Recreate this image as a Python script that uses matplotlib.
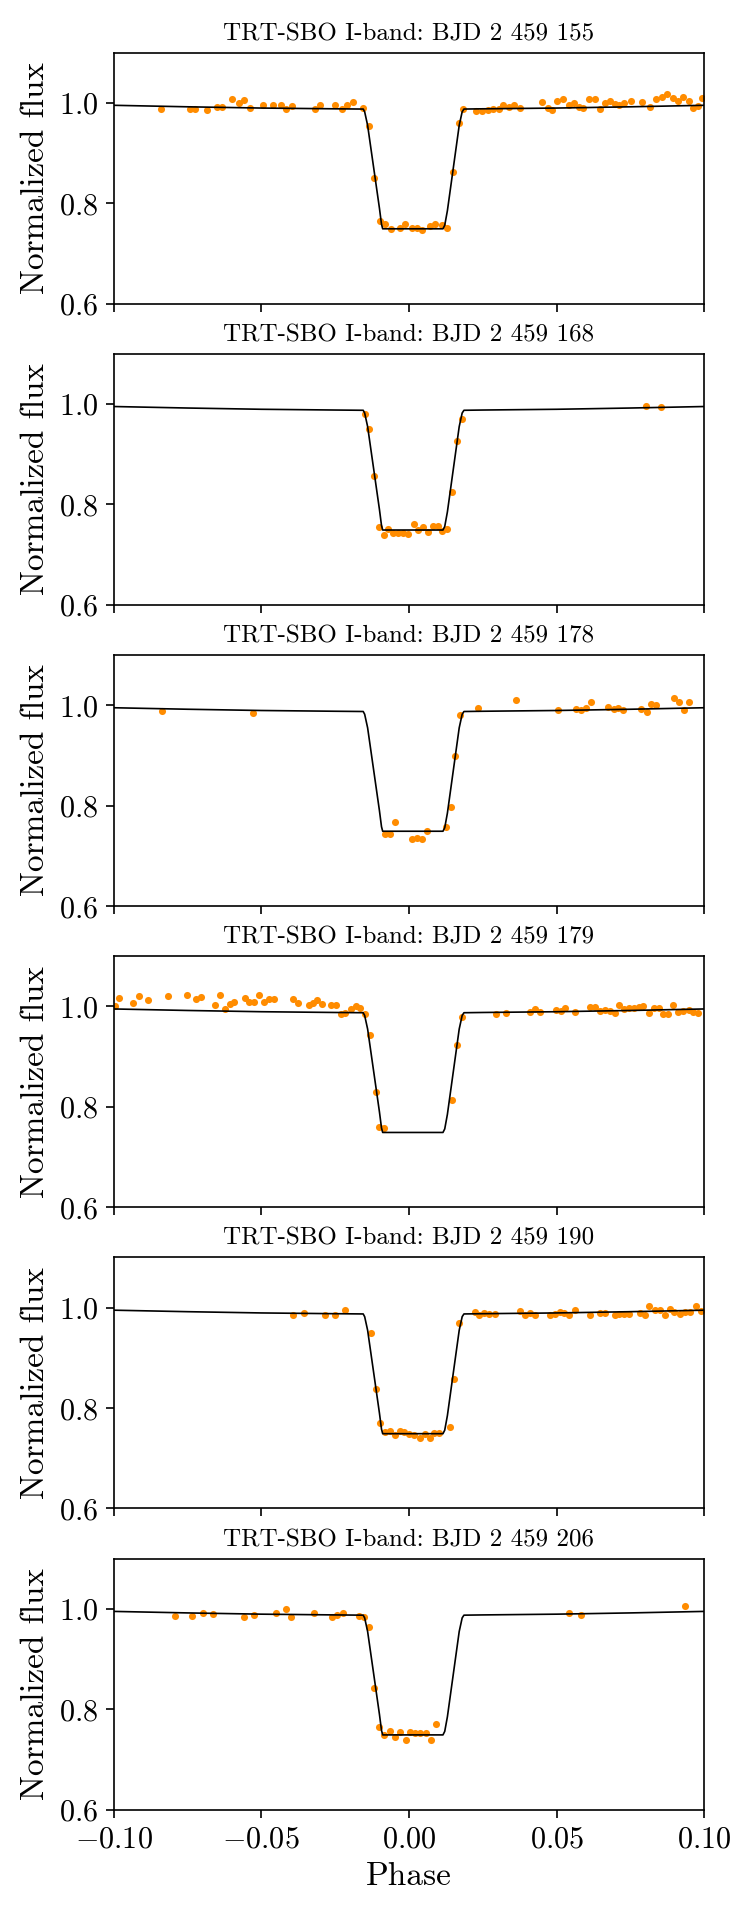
import numpy as np
import matplotlib
matplotlib.use("Agg")
import matplotlib.pyplot as plt

plt.rcParams['font.family'] = 'serif'
plt.rcParams['font.serif'] = ['cmr10']
plt.rcParams['mathtext.fontset'] = 'cm'
plt.rcParams['axes.formatter.use_mathtext'] = True
plt.rcParams['axes.unicode_minus'] = True

# night labels (BJD 2 459 xxx)
nights = ['155', '168', '178', '179', '190', '206']

# transit model (same for every night)
model_phase = [-0.1, -0.075, -0.05, -0.025, -0.0155, -0.0150, -0.0140, -0.0100, -0.0093,
               -0.0089, 0.0115, 0.0121, 0.0130, 0.0170, 0.0180, 0.0186, 0.025, 0.05, 0.075, 0.1]
model_flux = [0.995, 0.992, 0.9895, 0.988, 0.9875, 0.982, 0.955, 0.790, 0.758,
              0.749, 0.749, 0.756, 0.785, 0.955, 0.982, 0.9875, 0.988, 0.9895, 0.992, 0.995]

# night 155
ph_155 = [-0.0841, -0.0741, -0.0723, -0.0683, -0.065, -0.0634, -0.0599, -0.0574, -0.0558, -0.0537,
          -0.0494, -0.0461, -0.0434, -0.0416, -0.0396, -0.0319, -0.0302, -0.0251, -0.0227, -0.021,
          -0.0191, -0.0157, -0.0134, -0.0118, -0.0097, -0.0081, -0.0061, -0.0032, -0.0015, 0.0011,
          0.0028, 0.0045, 0.007, 0.0089, 0.0113, 0.0129, 0.015, 0.017, 0.0183, 0.0228,
          0.0248, 0.0267, 0.0283, 0.0303, 0.0319, 0.034, 0.0356, 0.0377, 0.045, 0.0469,
          0.0485, 0.0502, 0.0523, 0.0542, 0.0558, 0.0574, 0.059, 0.061, 0.063, 0.0647,
          0.0663, 0.068, 0.0696, 0.0712, 0.0728, 0.0752, 0.079, 0.0817, 0.0837, 0.0858,
          0.0874, 0.0895, 0.0911, 0.0927, 0.0947, 0.0963, 0.0979, 0.0992]
fl_155 = [0.988, 0.988, 0.988, 0.985, 0.992, 0.991, 1.008, 1.000, 1.005, 0.990,
          0.995, 0.995, 0.996, 0.987, 0.993, 0.987, 0.995, 0.995, 0.987, 0.995,
          1.002, 0.989, 0.953, 0.851, 0.764, 0.759, 0.748, 0.751, 0.759, 0.751,
          0.750, 0.746, 0.754, 0.759, 0.757, 0.751, 0.862, 0.960, 0.988, 0.983,
          0.983, 0.985, 0.987, 0.987, 0.995, 0.992, 0.995, 0.989, 1.002, 0.990,
          0.985, 1.003, 1.007, 0.995, 0.999, 0.992, 0.989, 1.007, 1.007, 0.988,
          0.999, 1.003, 0.997, 0.995, 0.999, 1.003, 1.001, 0.992, 1.007, 1.012,
          1.017, 1.009, 1.003, 1.012, 1.003, 0.990, 0.993, 1.009]

# night 168
ph_168 = [-0.015, -0.0134, -0.0118, -0.0102, -0.0086, -0.007, -0.0053, -0.0037, -0.0021, -0.0003,
          0.0016, 0.0032, 0.0049, 0.0065, 0.0081, 0.0097, 0.0113, 0.0129, 0.0147, 0.0163,
          0.018, 0.0801, 0.0853]
fl_168 = [0.980, 0.951, 0.856, 0.756, 0.739, 0.751, 0.743, 0.743, 0.743, 0.741,
          0.761, 0.750, 0.755, 0.746, 0.757, 0.757, 0.748, 0.751, 0.825, 0.926,
          0.970, 0.997, 0.994]

# night 178
ph_178 = [-0.0835, -0.0529, -0.0081, -0.0065, -0.0049, 0.0011, 0.0028, 0.0044, 0.0061, 0.0125,
          0.0141, 0.0157, 0.0173, 0.0235, 0.0361, 0.0506, 0.0566, 0.0583, 0.0599, 0.0617,
          0.0675, 0.0693, 0.0709, 0.0725, 0.0785, 0.0804, 0.082, 0.0837, 0.0898, 0.0914,
          0.093, 0.0947]
fl_178 = [0.989, 0.985, 0.743, 0.743, 0.767, 0.733, 0.736, 0.733, 0.749, 0.757,
          0.797, 0.899, 0.980, 0.995, 1.011, 0.990, 0.993, 0.991, 0.994, 1.007,
          0.996, 0.993, 0.995, 0.990, 0.993, 0.987, 1.003, 1.000, 1.014, 1.007,
          0.990, 1.006]

# night 179
ph_179 = [-0.0995, -0.0982, -0.0934, -0.0914, -0.0882, -0.0817, -0.0752, -0.072, -0.0704, -0.0655,
          -0.0639, -0.0623, -0.0607, -0.0591, -0.0555, -0.0542, -0.0526, -0.0506, -0.049, -0.0474,
          -0.0458, -0.0392, -0.0375, -0.034, -0.0324, -0.0311, -0.0294, -0.0264, -0.0248, -0.0231,
          -0.0215, -0.0197, -0.0181, -0.0165, -0.0149, -0.0133, -0.0113, -0.01, -0.0084, 0.0146,
          0.0162, 0.0178, 0.0296, 0.0328, 0.0409, 0.0426, 0.0445, 0.0497, 0.0513, 0.0529,
          0.0561, 0.0612, 0.0628, 0.0647, 0.0663, 0.068, 0.0696, 0.0712, 0.0728, 0.0744,
          0.0761, 0.0777, 0.0793, 0.0812, 0.0828, 0.0845, 0.0861, 0.0877, 0.0895, 0.0911,
          0.0927, 0.0947, 0.0963, 0.0979]
fl_179 = [1.001, 1.016, 1.007, 1.020, 1.012, 1.020, 1.023, 1.015, 1.018, 1.002,
          1.022, 0.995, 1.005, 1.008, 1.017, 1.009, 1.009, 1.023, 1.009, 1.014,
          1.015, 1.014, 1.006, 1.002, 1.007, 1.012, 1.005, 1.003, 1.003, 0.985,
          0.987, 0.995, 1.000, 0.997, 0.985, 0.944, 0.829, 0.759, 0.758, 0.813,
          0.924, 0.978, 0.985, 0.986, 0.989, 0.995, 0.989, 0.992, 0.991, 0.997,
          0.988, 0.999, 0.999, 0.991, 0.993, 0.991, 0.987, 1.002, 0.995, 0.997,
          0.997, 0.999, 1.000, 0.987, 0.996, 0.997, 0.985, 0.985, 1.003, 0.988,
          0.991, 0.992, 0.989, 0.987]

# night 190
ph_190 = [-0.0393, -0.0356, -0.0283, -0.0251, -0.0215, -0.0129, -0.0113, -0.0097, -0.0081, -0.0065,
          -0.0049, -0.0032, -0.0016, 0.0, 0.0016, 0.0037, 0.0053, 0.007, 0.0086, 0.0102,
          0.0138, 0.0154, 0.017, 0.0222, 0.0238, 0.0254, 0.027, 0.0291, 0.0377, 0.0393,
          0.0409, 0.0426, 0.0477, 0.0494, 0.051, 0.0526, 0.0542, 0.0561, 0.0612, 0.0647,
          0.0663, 0.0696, 0.0712, 0.0728, 0.0744, 0.0782, 0.0798, 0.0814, 0.0833, 0.085,
          0.0866, 0.0882, 0.0898, 0.0917, 0.0934, 0.095, 0.0971, 0.0987]
fl_190 = [0.986, 0.989, 0.985, 0.985, 0.995, 0.949, 0.838, 0.770, 0.753, 0.755,
          0.747, 0.755, 0.753, 0.749, 0.747, 0.741, 0.749, 0.741, 0.751, 0.751,
          0.763, 0.857, 0.970, 0.992, 0.985, 0.990, 0.988, 0.988, 0.994, 0.985,
          0.989, 0.985, 0.986, 0.988, 0.991, 0.989, 0.986, 0.995, 0.985, 0.989,
          0.990, 0.985, 0.987, 0.987, 0.987, 0.990, 0.985, 1.003, 0.995, 0.995,
          0.985, 0.997, 0.991, 0.988, 0.991, 0.991, 1.003, 0.993]

# night 206
ph_206 = [-0.0791, -0.0736, -0.0696, -0.0663, -0.0558, -0.0524, -0.0451, -0.0416, -0.04, -0.0322,
          -0.0259, -0.0243, -0.0225, -0.0168, -0.0152, -0.0134, -0.0117, -0.01, -0.0084, -0.0065,
          -0.0049, -0.0031, -0.0011, 0.0005, 0.0021, 0.0037, 0.0057, 0.0074, 0.0092, 0.0542,
          0.0583, 0.0934]
fl_206 = [0.985, 0.985, 0.991, 0.989, 0.984, 0.987, 0.992, 0.999, 0.984, 0.992,
          0.984, 0.987, 0.991, 0.985, 0.984, 0.963, 0.843, 0.764, 0.748, 0.756,
          0.744, 0.755, 0.739, 0.755, 0.752, 0.752, 0.752, 0.739, 0.771, 0.991,
          0.988, 1.005]

phases = [ph_155, ph_168, ph_178, ph_179, ph_190, ph_206]
fluxes = [fl_155, fl_168, fl_178, fl_179, fl_190, fl_206]

fig, axes = plt.subplots(6, 1, figsize=(747 / 150, 1912 / 150), dpi=150, sharex=True)
fig.subplots_adjust(left=0.152, right=0.943, top=0.9725, bottom=0.0535, hspace=0.2)

for ax, night, ph, fl in zip(axes, nights, phases, fluxes):
    ax.plot(ph, fl, 'o', color='darkorange', markersize=3.4, markeredgewidth=0, zorder=2)
    ax.plot(model_phase, model_flux, color='black', lw=0.8, zorder=3)
    ax.set_title('TRT-SBO I-band: BJD 2 459 ' + night, fontsize=12)
    ax.set_xlim(-0.1, 0.1)
    ax.set_ylim(0.6, 1.1)
    ax.set_yticks([0.6, 0.8, 1.0])
    ax.set_xticks([-0.1, -0.05, 0.0, 0.05, 0.1])
    ax.set_ylabel('Normalized flux', fontsize=16)
    ax.tick_params(labelsize=14.5, length=4)
    ax.yaxis.set_major_formatter(matplotlib.ticker.FormatStrFormatter('$%.1f$'))

axes[-1].set_xlabel('Phase', fontsize=16)
axes[-1].xaxis.set_major_formatter(matplotlib.ticker.FormatStrFormatter('$%.2f$'))

fig.savefig('out.png', dpi=150)
